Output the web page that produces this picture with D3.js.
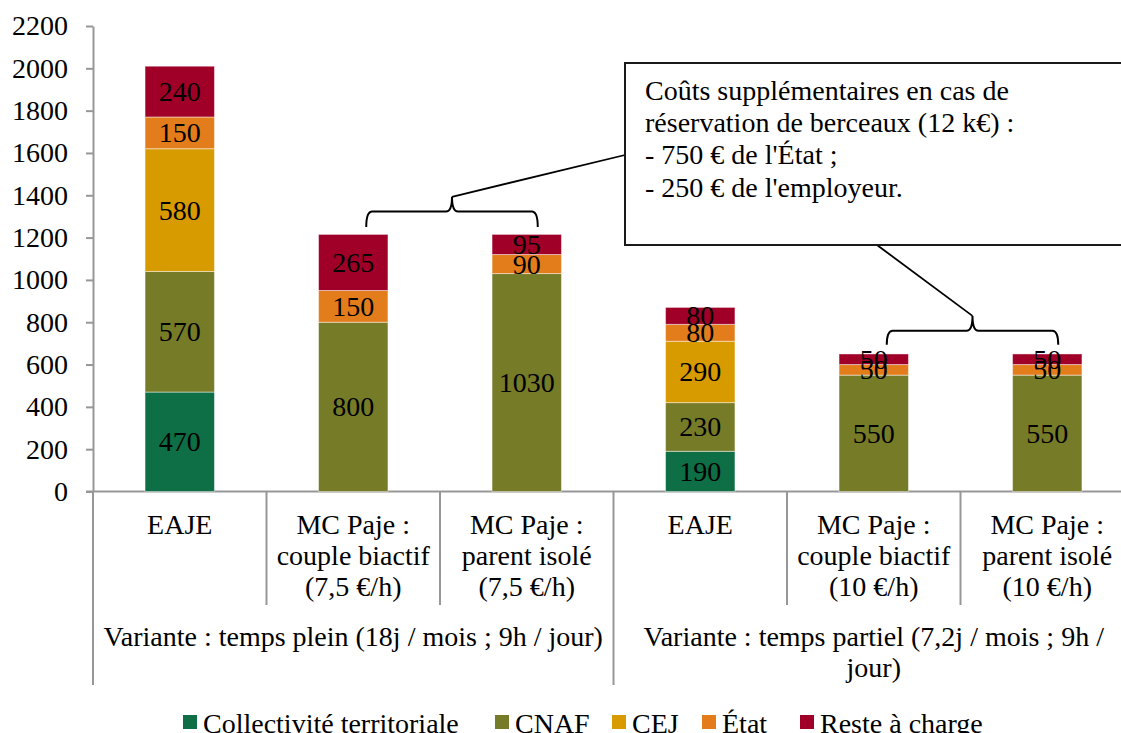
<!DOCTYPE html>
<html>
<head>
<meta charset="utf-8">
<script src="https://cdn.jsdelivr.net/npm/d3@7"></script>
<style>
  html, body { margin: 0; padding: 0; background: #fff; overflow: hidden; }
  svg { display: block; font-family: "Liberation Serif", "DejaVu Serif", serif; }
</style>
</head>
<body>
<svg id="chart" width="1121" height="733"></svg>
<script>
// ---------- DATA ----------
const categoryLines = [
  ["EAJE"],
  ["MC Paje :", "couple biactif", "(7,5 €/h)"],
  ["MC Paje :", "parent isolé", "(7,5 €/h)"],
  ["EAJE"],
  ["MC Paje :", "couple biactif", "(10 €/h)"],
  ["MC Paje :", "parent isolé", "(10 €/h)"]
];
const groupLines = [
  ["Variante : temps plein (18j / mois ; 9h / jour)"],
  ["Variante : temps partiel (7,2j / mois ; 9h /", "jour)"]
];
const groupSizes = [3, 3];
const seriesNames = ["Collectivité territoriale", "CNAF", "CEJ", "État", "Reste à charge"];
const collectivite = [470, 0, 0, 190, 0, 0];
const cnaf = [570, 800, 1030, 230, 550, 550];
const cej = [580, 0, 0, 290, 0, 0];
const etat = [150, 150, 90, 80, 50, 50];
const reste = [240, 265, 95, 80, 50, 50];
const yTicks = [0, 200, 400, 600, 800, 1000, 1200, 1400, 1600, 1800, 2000, 2200];
const calloutLines = [
  "Coûts supplémentaires en cas de",
  "réservation de berceaux (12 k€) :",
  "- 750 € de l'État ;",
  "- 250 € de l'employeur."
];
// braces: bars spanned, and value levels (end, horizontal, peak)
const braces = [
  { from: 1, to: 2, end: 1250, mid: 1323, peak: 1393 },
  { from: 4, to: 5, end: 693, mid: 760, peak: 830 }
];

// ---------- STYLE / LAYOUT ----------
const colors = ["#0E6E45", "#767B27", "#D79B00", "#E37D1B", "#A00028"];
const axisColor = "#979797";
const FS = 28;
const legendLeft = [183, 495, 612, 702, 800];

const svg = d3.select("#chart");
const x0 = 93, x1 = 1134, yBottom = 491.5, yTop = 26;

const x = d3.scaleBand().domain(d3.range(categoryLines.length)).range([x0, x1])
  .paddingInner(0.6).paddingOuter(0.3);
const y = d3.scaleLinear().domain([0, 2200]).range([yBottom, yTop]);
const step = x.step();

const seriesVals = [collectivite, cnaf, cej, etat, reste];
const table = d3.range(categoryLines.length).map(i => {
  const o = { i };
  seriesNames.forEach((s, k) => o[s] = seriesVals[k][i]);
  return o;
});
const stack = d3.stack().keys(seriesNames)(table);

// Y axis
const yAxis = svg.append("g").attr("transform", `translate(${x0},0)`)
  .call(d3.axisLeft(y).tickValues(yTicks).tickFormat(d3.format("d"))
    .tickSize(7).tickSizeOuter(0).tickPadding(18));
yAxis.selectAll("path, line").attr("stroke", axisColor).attr("stroke-width", 2);
yAxis.selectAll("text").attr("font-size", FS).attr("font-family", "Liberation Serif").attr("fill", "#000");

// X axis baseline
svg.append("line").attr("x1", x0 - 7).attr("x2", 1121).attr("y1", y(0)).attr("y2", y(0))
  .attr("stroke", axisColor).attr("stroke-width", 2);

// category dividers
let boundaries = [];
let acc = 0;
groupSizes.forEach(g => { boundaries.push(acc); acc += g; });
boundaries.push(acc);
d3.range(categoryLines.length + 1).forEach(i => {
  const xx = x0 + i * step;
  const isGroup = boundaries.includes(i);
  svg.append("line").attr("x1", xx).attr("x2", xx).attr("y1", y(0)).attr("y2", isGroup ? 685 : 605)
    .attr("stroke", axisColor).attr("stroke-width", 2);
});

// bars
stack.forEach((layer, k) => {
  svg.append("g").selectAll("rect").data(layer.filter(d => d[1] - d[0] > 0)).join("rect")
    .attr("x", d => x(d.data.i)).attr("width", x.bandwidth())
    .attr("y", d => y(d[1])).attr("height", d => y(d[0]) - y(d[1]))
    .attr("fill", colors[k]).attr("stroke", "#fff").attr("stroke-opacity", 0.45).attr("stroke-width", 1);
});
stack.forEach((layer, k) => {
  svg.append("g").selectAll("text").data(layer.filter(d => d[1] - d[0] > 0)).join("text")
    .attr("x", d => x(d.data.i) + x.bandwidth() / 2)
    .attr("y", d => y((d[0] + d[1]) / 2)).attr("dy", "0.34em")
    .attr("text-anchor", "middle").attr("font-size", FS).attr("fill", "#000")
    .text(d => d[1] - d[0]);
});

// category labels
categoryLines.forEach((lines, i) => {
  const t = svg.append("text").attr("text-anchor", "middle").attr("font-size", FS).attr("fill", "#000");
  lines.forEach((l, j) => t.append("tspan").attr("x", x(i) + x.bandwidth() / 2).attr("y", 534 + j * 31).text(l));
});
// group labels
groupLines.forEach((lines, g) => {
  const a = boundaries[g], b = boundaries[g + 1];
  const cx = x0 + (a + b) / 2 * step;
  const t = svg.append("text").attr("text-anchor", "middle").attr("font-size", FS).attr("fill", "#000");
  lines.forEach((l, j) => t.append("tspan").attr("x", cx).attr("y", 646 + j * 31).text(l));
});

// braces
function bracePath(xa, xb, yEnd, yH, yPeak, r) {
  const xc = (xa + xb) / 2;
  return `M${xa},${yEnd} Q${xa},${yH} ${xa + r},${yH} L${xc - r},${yH} Q${xc},${yH} ${xc},${yPeak} ` +
         `M${xc},${yPeak} Q${xc},${yH} ${xc + r},${yH} L${xb - r},${yH} Q${xb},${yH} ${xb},${yEnd}`;
}
const braceGeo = braces.map(b => {
  const xa = x(b.from) + x.bandwidth() / 2 + 13;
  const xb = x(b.to) + x.bandwidth() / 2 + 11;
  return { xa, xb, xc: (xa + xb) / 2, b };
});
braceGeo.forEach(g => {
  svg.append("path").attr("d", bracePath(g.xa, g.xb, y(g.b.end), y(g.b.mid), y(g.b.peak), 6))
    .attr("fill", "none").attr("stroke", "#000").attr("stroke-width", 2);
});

// callout box
const box = { x: 625, y: 63, w: 520, h: 182 };
svg.append("line").attr("x1", braceGeo[0].xc).attr("y1", y(braces[0].peak))
  .attr("x2", box.x).attr("y2", 155).attr("stroke", "#000").attr("stroke-width", 1.8);
svg.append("line").attr("x1", braceGeo[1].xc).attr("y1", y(braces[1].peak))
  .attr("x2", 877).attr("y2", box.y + box.h).attr("stroke", "#000").attr("stroke-width", 1.8);
svg.append("rect").attr("x", box.x).attr("y", box.y).attr("width", box.w).attr("height", box.h)
  .attr("fill", "#fff").attr("stroke", "#1a1a1a").attr("stroke-width", 2);
const ct = svg.append("text").attr("font-size", FS).attr("fill", "#000");
calloutLines.forEach((l, j) => ct.append("tspan").attr("x", 645).attr("y", 100 + j * 32.2).text(l));

// legend
seriesNames.forEach((s, k) => {
  const g = svg.append("g").attr("transform", `translate(${legendLeft[k]},0)`);
  g.append("rect").attr("x", 0).attr("y", 715).attr("width", 14).attr("height", 14).attr("fill", colors[k]);
  g.append("text").attr("x", 20).attr("y", 733).attr("font-size", FS).attr("fill", "#000").text(s);
});
</script>
</body>
</html>
